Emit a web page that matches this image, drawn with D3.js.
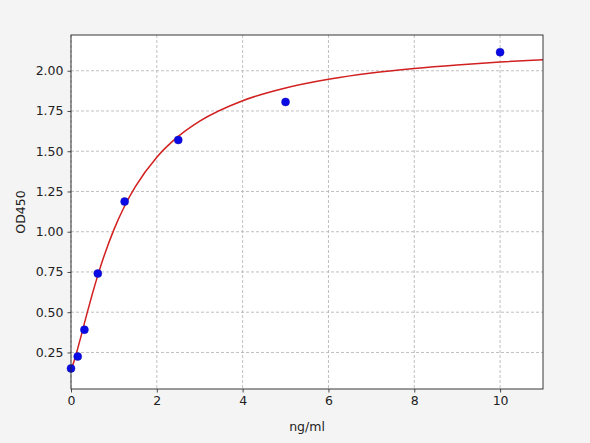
<!DOCTYPE html>
<html>
<head>
<meta charset="utf-8">
<script src="https://cdn.jsdelivr.net/npm/d3@7"></script>
<style>
  html, body { margin: 0; padding: 0; background: #f4f4f4; }
  svg { display: block; font-family: "DejaVu Sans", sans-serif; }
</style>
</head>
<body>
<div id="chart"></div>
<script>
// measured standards (ng/ml vs OD450)
const concentrations = [0, 0.156, 0.3125, 0.625, 1.25, 2.5, 5, 10];
const odValues = [0.151, 0.225, 0.391, 0.74, 1.187, 1.57, 1.806, 2.115];

// fitted curve
const curveX = [0, 0.05, 0.1, 0.156, 0.2, 0.25, 0.3125, 0.4, 0.5, 0.625, 0.75, 1, 1.25, 1.5, 2, 2.5, 3, 4, 5, 6, 7, 8, 9, 10, 11];
const curveY = [0.15, 0.179, 0.221, 0.274, 0.317, 0.367, 0.432, 0.519, 0.616, 0.729, 0.833, 1.013, 1.16, 1.28, 1.463, 1.592, 1.687, 1.814, 1.893, 1.947, 1.986, 2.014, 2.036, 2.054, 2.069];

const xTicks = [0, 2, 4, 6, 8, 10];
const yTicks = [0.25, 0.5, 0.75, 1.0, 1.25, 1.5, 1.75, 2.0];

const width = 590, height = 443;
const margin = { top: 35, right: 47, bottom: 54, left: 71 };
const innerW = width - margin.left - margin.right;
const innerH = height - margin.top - margin.bottom;

const svg = d3.select('#chart').append('svg')
    .attr('width', width)
    .attr('height', height);

const g = svg.append('g')
    .attr('transform', 'translate(' + margin.left + ',' + margin.top + ')');

const x = d3.scaleLinear().domain([0, 11]).range([0, innerW]);
const y = d3.scaleLinear().domain([0.023, 2.222]).range([innerH, 0]);

g.append('rect')
    .attr('width', innerW)
    .attr('height', innerH)
    .attr('fill', '#ffffff');

// grid
g.append('g').selectAll('line')
    .data(xTicks)
    .enter().append('line')
    .attr('x1', d => x(d)).attr('x2', d => x(d))
    .attr('y1', 0).attr('y2', innerH)
    .attr('stroke', '#b0b0b0')
    .attr('stroke-width', 0.8)
    .attr('stroke-dasharray', '3,2');

g.append('g').selectAll('line')
    .data(yTicks)
    .enter().append('line')
    .attr('x1', 0).attr('x2', innerW)
    .attr('y1', d => y(d)).attr('y2', d => y(d))
    .attr('stroke', '#b0b0b0')
    .attr('stroke-width', 0.8)
    .attr('stroke-dasharray', '3,2');

g.append('clipPath').attr('id', 'plot-clip')
    .append('rect').attr('width', innerW).attr('height', innerH);

const line = d3.line()
    .x(d => x(d[0]))
    .y(d => y(d[1]))
    .curve(d3.curveMonotoneX);

g.append('path')
    .datum(d3.zip(curveX, curveY))
    .attr('clip-path', 'url(#plot-clip)')
    .attr('fill', 'none')
    .attr('stroke', '#d21f1f')
    .attr('stroke-width', 1.5)
    .attr('d', line);

g.append('g').selectAll('circle')
    .data(d3.zip(concentrations, odValues))
    .enter().append('circle')
    .attr('cx', d => x(d[0]))
    .attr('cy', d => y(d[1]))
    .attr('r', 4)
    .attr('fill', '#0a0ae6')
    .attr('stroke', '#1010b0')
    .attr('stroke-width', 0.5);

// axes
const xAxis = g.append('g')
    .attr('transform', 'translate(0,' + innerH + ')')
    .call(d3.axisBottom(x).tickValues(xTicks).tickFormat(d3.format('d')).tickSizeOuter(0).tickSize(3.5).tickPadding(4));

const yAxis = g.append('g')
    .call(d3.axisLeft(y).tickValues(yTicks).tickFormat(d3.format('.2f')).tickSizeOuter(0).tickSize(3.5).tickPadding(4));

[xAxis, yAxis].forEach(a => {
    a.select('.domain').remove();
    a.selectAll('text').attr('font-size', 12.5).attr('fill', '#222').attr('font-family', '"DejaVu Sans", sans-serif');
    a.selectAll('line').attr('stroke', '#222').attr('stroke-width', 0.8);
});

g.append('rect')
    .attr('width', innerW)
    .attr('height', innerH)
    .attr('fill', 'none')
    .attr('stroke', '#222')
    .attr('stroke-width', 0.9);

svg.append('text')
    .attr('x', margin.left + innerW / 2)
    .attr('y', 427)
    .attr('text-anchor', 'middle')
    .attr('dominant-baseline', 'middle')
    .attr('font-size', 12.5)
    .attr('fill', '#222')
    .text('ng/ml');

svg.append('text')
    .attr('transform', 'translate(21,' + (margin.top + innerH / 2) + ') rotate(-90)')
    .attr('text-anchor', 'middle')
    .attr('dominant-baseline', 'middle')
    .attr('font-size', 12.5)
    .attr('fill', '#222')
    .text('OD450');
</script>
</body>
</html>
